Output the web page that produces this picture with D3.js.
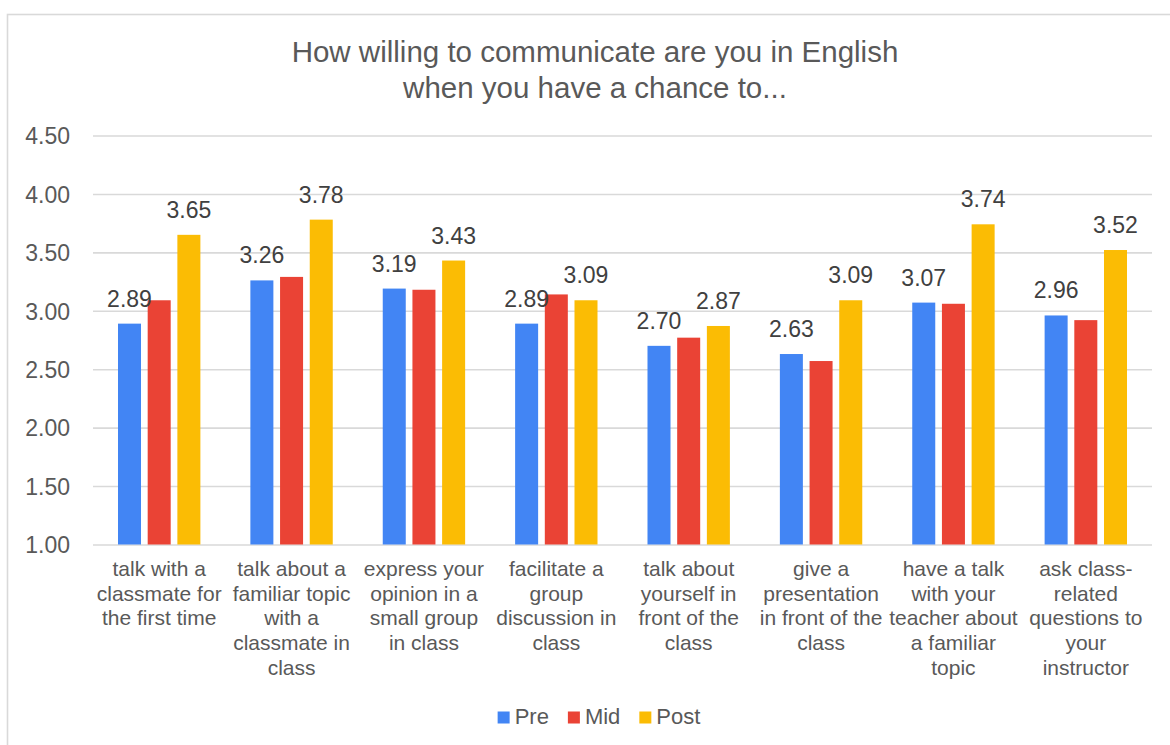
<!DOCTYPE html>
<html>
<head>
<meta charset="utf-8">
<script src="https://cdn.jsdelivr.net/npm/d3@7/dist/d3.min.js"></script>
<style>
  html, body { margin: 0; padding: 0; background: #fff; }
  svg { display: block; font-family: "Liberation Sans", Arial, sans-serif; }
</style>
</head>
<body>
<svg id="chart" width="1170" height="745"></svg>
<script>
// Survey items (one array of wrapped lines per item)
const categories = [
  ["talk with a", "classmate for", "the first time"],
  ["talk about a", "familiar topic", "with a", "classmate in", "class"],
  ["express your", "opinion in a", "small group", "in class"],
  ["facilitate a", "group", "discussion in", "class"],
  ["talk about", "yourself in", "front of the", "class"],
  ["give a", "presentation", "in front of the", "class"],
  ["have a talk", "with your", "teacher about", "a familiar", "topic"],
  ["ask class-", "related", "questions to", "your", "instructor"]
];

const seriesNames = ["Pre", "Mid", "Post"];
const seriesColors = ["#4285F4", "#EA4335", "#FBBC04"];

const preValues  = [2.89, 3.26, 3.19, 2.89, 2.70, 2.63, 3.07, 2.96];
const midValues  = [3.09, 3.29, 3.18, 3.14, 2.77, 2.57, 3.06, 2.92];
const postValues = [3.65, 3.78, 3.43, 3.09, 2.87, 3.09, 3.74, 3.52];

// Which series carry value labels
const labelledSeries = ["Pre", "Post"];

const yTicks = [1.00, 1.50, 2.00, 2.50, 3.00, 3.50, 4.00, 4.50];

const titleLines = ["How willing to communicate are you in English", "when you have a chance to..."];

const seriesValues = { Pre: preValues, Mid: midValues, Post: postValues };

const svg = d3.select("#chart");
const W = 1170, H = 745;

// Outer frame
svg.append("rect")
  .attr("x", 7.5).attr("y", 14.5)
  .attr("width", W + 10).attr("height", H + 10)
  .attr("fill", "#fff")
  .attr("stroke", "#d9d9d9").attr("stroke-width", 1.6);

const plot = { left: 93, right: 1152, top: 135.5, bottom: 544.5 };

// Title
svg.append("text")
  .attr("x", 595).attr("y", 62)
  .attr("text-anchor", "middle")
  .attr("font-size", 29.5).attr("fill", "#595959")
  .selectAll("tspan").data(titleLines).join("tspan")
  .attr("x", 595).attr("dy", (d, i) => i === 0 ? 0 : 35.5)
  .text(d => d);

const x0 = d3.scaleBand()
  .domain(d3.range(categories.length))
  .range([plot.left, plot.right])
  .padding(0);

const x1 = d3.scaleBand()
  .domain(seriesNames)
  .range([0, x0.bandwidth()])
  .paddingInner(0.225)
  .paddingOuter(0.842);

const y = d3.scaleLinear()
  .domain([1, 4.5])
  .range([plot.bottom, plot.top]);

// Gridlines and value axis
const yAxis = svg.append("g")
  .attr("transform", `translate(${plot.left},0)`)
  .call(d3.axisLeft(y)
    .tickValues(yTicks)
    .tickFormat(d3.format(".2f"))
    .tickSize(-(plot.right - plot.left))
    .tickPadding(23));
yAxis.select(".domain").remove();
yAxis.selectAll(".tick line")
  .attr("stroke", "#d9d9d9").attr("stroke-width", 1.6);
yAxis.selectAll(".tick text")
  .attr("font-size", 23).attr("fill", "#595959")
  .attr("font-family", "'Liberation Sans', Arial, sans-serif")
  .attr("dy", "0.36em");

// Bars
const groups = svg.append("g").selectAll("g")
  .data(categories.map((c, i) => i))
  .join("g")
  .attr("transform", i => `translate(${x0(i)},0)`);

groups.selectAll("rect")
  .data(i => seriesNames.map((s, k) => ({ s, k, v: seriesValues[s][i] })))
  .join("rect")
  .attr("x", d => x1(d.s))
  .attr("width", x1.bandwidth())
  .attr("y", d => y(d.v))
  .attr("height", d => y(1) - y(d.v))
  .attr("fill", d => seriesColors[d.k]);

// Value labels (drawn over all bars)
const labelLayer = svg.append("g");
categories.forEach((c, i) => {
  labelledSeries.forEach(s => {
    const v = seriesValues[s][i];
    labelLayer.append("text")
      .attr("x", x0(i) + x1(s) + x1.bandwidth() / 2)
      .attr("y", y(v) - 17)
      .attr("text-anchor", "middle")
      .attr("font-size", 23).attr("fill", "#404040")
      .text(d3.format(".2f")(v));
  });
});

// Category axis
const xAxis = svg.append("g")
  .attr("transform", `translate(0,${plot.bottom})`)
  .call(d3.axisBottom(x0).tickSize(0).tickFormat(""));
xAxis.select(".domain").remove();
xAxis.selectAll(".tick").each(function(i) {
  const t = d3.select(this).append("text")
    .attr("y", 31.5)
    .attr("text-anchor", "middle")
    .attr("font-size", 21).attr("fill", "#595959")
    .attr("font-family", "'Liberation Sans', Arial, sans-serif");
  t.selectAll("tspan").data(categories[i]).join("tspan")
    .attr("x", 0).attr("dy", (d, k) => k === 0 ? 0 : 24.7)
    .text(d => d);
});

// Legend
const legend = svg.append("g");
const items = legend.selectAll("g").data(seriesNames).join("g");
items.append("rect")
  .attr("width", 12).attr("height", 12)
  .attr("y", -12)
  .attr("fill", (d, k) => seriesColors[k]);
items.append("text")
  .attr("x", 17).attr("y", 0)
  .attr("font-size", 22).attr("fill", "#595959")
  .text(d => d);
let cx = 0;
items.each(function() {
  const g = d3.select(this);
  g.attr("transform", `translate(${cx},0)`);
  const w = 17 + g.select("text").node().getComputedTextLength();
  cx += w + 19;
});
const legendWidth = cx - 19;
legend.attr("transform", `translate(${599 - legendWidth / 2},723.5)`);
</script>
</body>
</html>
